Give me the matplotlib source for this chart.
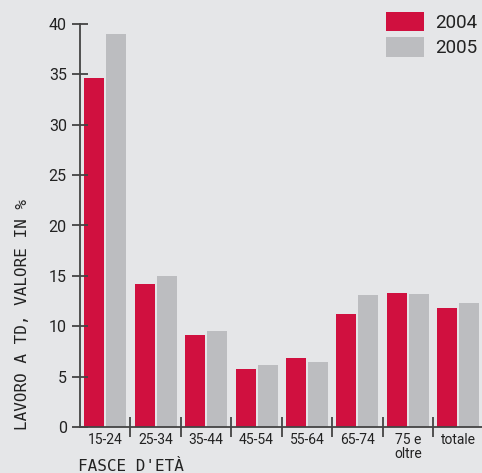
import matplotlib
matplotlib.use('Agg')
import matplotlib.pyplot as plt
import numpy as np

categories = ['15-24', '25-34', '35-44', '45-54', '55-64', '65-74', '75 e\noltre', 'totale']
values_2004 = [34.6, 14.2, 9.1, 5.8, 6.8, 11.2, 13.3, 11.8]
values_2005 = [39.0, 15.0, 9.5, 6.2, 6.5, 13.1, 13.2, 12.3]
years = ['2004', '2005']
yticks = [0, 5, 10, 15, 20, 25, 30, 35, 40]

RED = '#d0103f'
GREY = '#bcbdc0'
BG = '#e5e6e8'
INK = '#222222'

plt.rcParams['font.family'] = ['Roboto', 'DejaVu Sans']

W, H = 482, 473
fig = plt.figure(figsize=(W / 100, H / 100), dpi=100, facecolor=BG)
ax = fig.add_axes([80 / W, 46 / H, 402 / W, 403 / H])
ax.set_facecolor(BG)

x = np.arange(len(categories))
bw = 0.396
ax.bar(x - bw / 2 - 0.02, values_2004, width=bw, color=RED, label=years[0])
ax.bar(x + bw / 2 + 0.02, values_2005, width=bw, color=GREY, label=years[1])

ax.set_xlim(-0.5, 7.47)
ax.set_ylim(0, 40)

for s in ['top', 'right']:
    ax.spines[s].set_visible(False)
for s in ['left', 'bottom']:
    ax.spines[s].set_color('#444444')
    ax.spines[s].set_linewidth(1.3)

ax.set_yticks(yticks)
ax.set_yticklabels([str(v) for v in yticks], fontsize=11.5, color=INK)
ax.tick_params(axis='y', direction='inout', length=11, width=1.3, color='#444444', pad=4)

ax.set_xticks(x)
ax.set_xticklabels(categories, fontsize=10, color=INK, linespacing=1.05)
ax.tick_params(axis='x', which='major', length=0, pad=4)
ax.set_xticks(x[:-1] + 0.5, minor=True)
ax.tick_params(axis='x', which='minor', direction='inout', length=15, width=1.3, color='#444444')

fig.text(23 / W, 1 - 430 / H, 'LAVORO A TD, VALORE IN %', rotation=90,
         ha='center', va='bottom', fontsize=11.5, color=INK, family='DejaVu Sans Mono')
fig.text(78 / W, 1 - 471 / H, "FASCE D'ETÀ", ha='left', va='baseline',
         fontsize=11.5, color=INK, family='DejaVu Sans Mono')

leg = ax.legend(loc='upper left', bbox_to_anchor=((386 - 80) / 402, 1.03), frameon=False,
                prop={'family': ['Roboto', 'DejaVu Sans'], 'size': 13.5},
                handlelength=2.0, handleheight=1.2, handletextpad=0.6,
                labelspacing=0.3, borderaxespad=0, borderpad=0)
for t in leg.get_texts():
    t.set_color(INK)

fig.savefig('out.png', dpi=100, facecolor=BG)
